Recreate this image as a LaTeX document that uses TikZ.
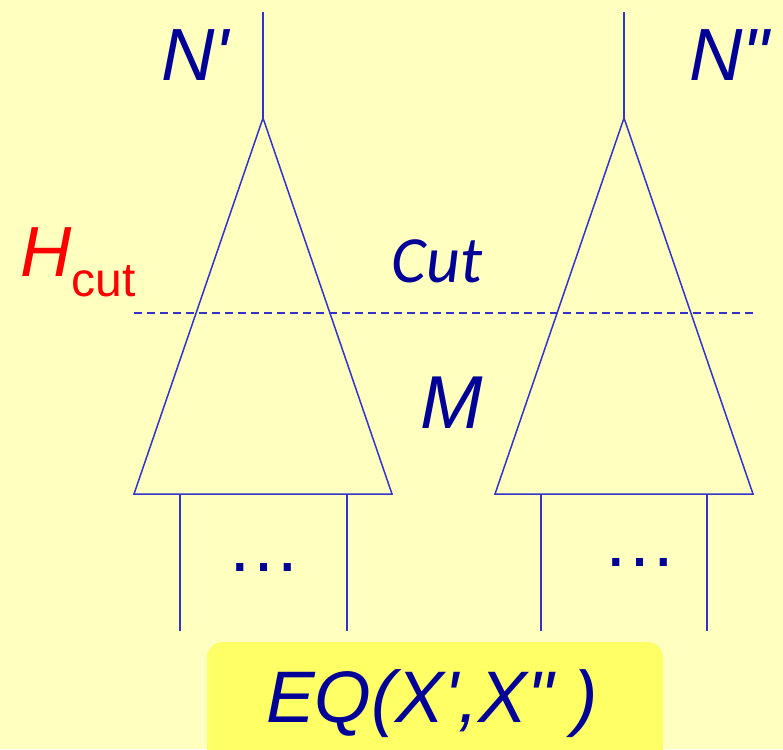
\documentclass[tikz,border=0pt]{standalone}
\usepackage{fontspec}
\setmainfont{Liberation Sans}[Ligatures=TeXOff]
\newfontfamily\cutfont{Carlito}
\definecolor{paper}{HTML}{FFFFC0}
\definecolor{boxfill}{HTML}{FFFF66}
\definecolor{treeline}{HTML}{3333CC}
\definecolor{labelblue}{HTML}{000099}
\newcommand{\bigsize}[1]{\fontsize{#1}{#1}\selectfont}
\newcommand{\sprime}{\symbol{"27}}
\newcommand{\dprime}{\symbol{"22}}
\begin{document}
\begin{tikzpicture}[
        x=1pt,
        y=-1pt,
        tree/.style={
            draw=treeline,
            line width=1.5pt
        },
        cutline/.style={
            draw=treeline,
            line width=1.3pt,
            dash pattern=on 8pt off 5pt
        },
        label/.style={
            text=labelblue,
            inner sep=0pt,
            anchor=base
        }
    ]
    % 背景
    \fill[paper] (0,0) rectangle (783,749);
    \useasboundingbox (0,0) rectangle (783,749);
    % 结果框
    \fill[boxfill, rounded corners=16pt] (207,642) rectangle (663,770);
    % 左树 N'
    \coordinate (topL) at (263,12);
    \coordinate (apexL) at (263,118);
    \coordinate (blL) at (134,494);
    \coordinate (brL) at (392,494);
    \coordinate (legLa) at (180,494);
    \coordinate (legLa end) at (180,631);
    \coordinate (legLb) at (347,494);
    \coordinate (legLb end) at (347,631);
    \draw[tree] (topL) -- (apexL);
    \draw[tree] (apexL) -- (blL) -- (brL) -- cycle;
    \draw[tree] (legLa) -- (legLa end);
    \draw[tree] (legLb) -- (legLb end);
    % 右树 N''
    \coordinate (topR) at (624,12);
    \coordinate (apexR) at (624,118);
    \coordinate (blR) at (495,494);
    \coordinate (brR) at (753,494);
    \coordinate (legRa) at (541,494);
    \coordinate (legRa end) at (541,631);
    \coordinate (legRb) at (707,494);
    \coordinate (legRb end) at (707,631);
    \draw[tree] (topR) -- (apexR);
    \draw[tree] (apexR) -- (blR) -- (brR) -- cycle;
    \draw[tree] (legRa) -- (legRa end);
    \draw[tree] (legRb) -- (legRb end);
    % 切割线
    \coordinate (cutstart) at (134,313);
    \coordinate (cutend) at (753,313);
    \draw[cutline] (cutstart) -- (cutend);
    % 标签
    \node[label] (nprime) at (195,81) {\bigsize{74pt}\itshape N\sprime};
    \node[label] (ndprime) at (729,81) {\bigsize{74pt}\itshape N\dprime};
    \node[label] (cut) at (437,282) {\bigsize{66pt}\cutfont\itshape Cut};
    \node[label] (m) at (452,428) {\bigsize{75pt}\itshape M};
    \node[label, text=red, anchor=base west] (hcut) at (20,276)
        {\bigsize{71pt}\itshape H\upshape\raisebox{-20pt}{\bigsize{48pt}cut}};
    \node[label] (dotsL) at (264,571) {\bigsize{75pt}…};
    \node[label] (dotsR) at (640,566) {\bigsize{75pt}…};
    \node[label] (eq) at (432,722) {\bigsize{73pt}\itshape EQ(X\sprime,X\dprime\ )};
\end{tikzpicture}
\end{document}
